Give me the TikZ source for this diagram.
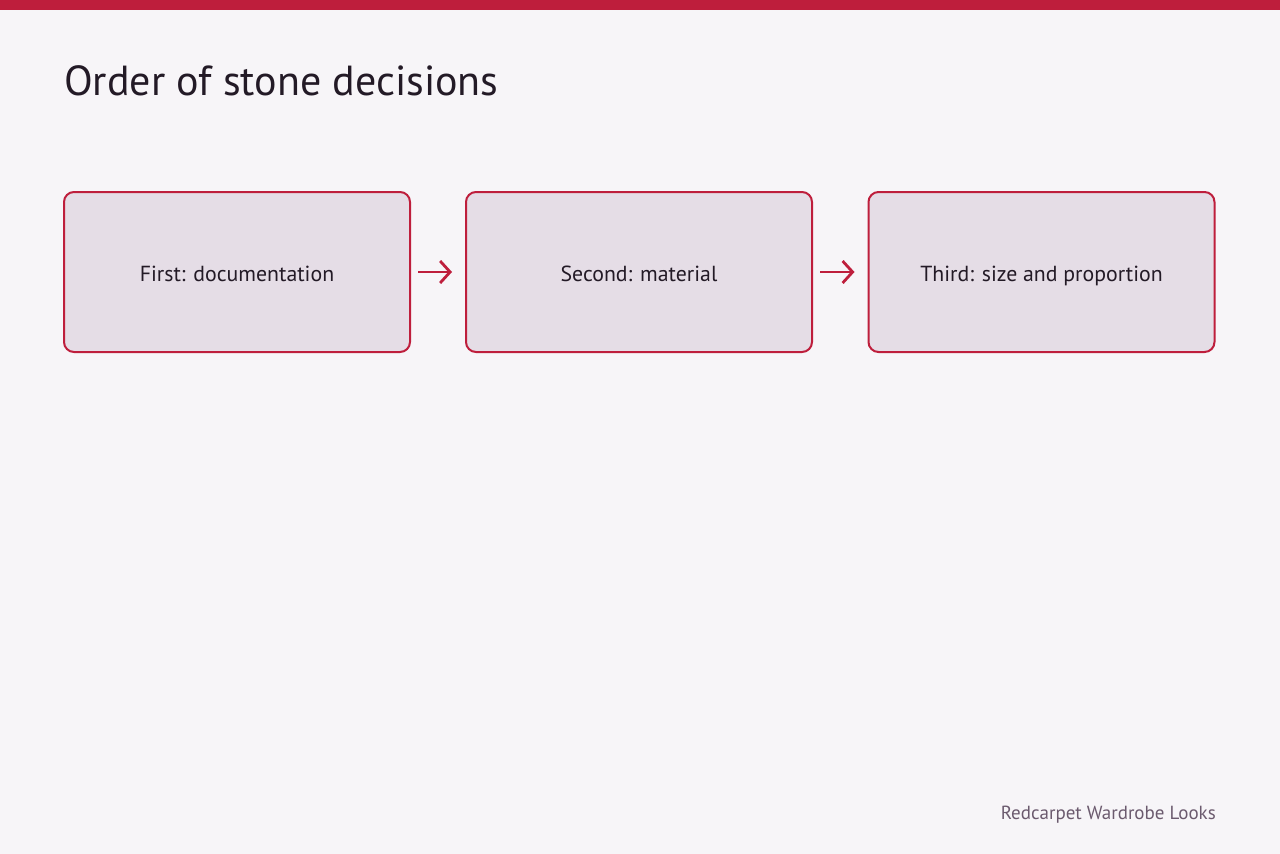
\documentclass[tikz,border=0pt]{standalone}
\usepackage{fontspec}
\setmainfont{PT Sans}
\usetikzlibrary{arrows.meta}
\definecolor{bg}{HTML}{F7F5F8}
\definecolor{accent}{HTML}{BE1E3C}
\definecolor{boxfill}{HTML}{E5DDE6}
\definecolor{ink}{HTML}{231A26}
\definecolor{muted}{HTML}{6B5A6E}
\tikzset{
  stepbox/.style={draw=accent, line width=2pt, fill=boxfill, rounded corners=10pt,
    minimum width=346pt, minimum height=160pt, inner sep=0pt,
    text height=20pt, text depth=2pt,
    text=ink, font=\fontsize{21.8}{26}\selectfont},
  flow/.style={draw=accent, line width=2.8pt, -{Straight Barb[length=10pt,width=22pt,line width=2.8pt]}}
}
\begin{document}
\begin{tikzpicture}[x=1pt,y=-1pt]
\useasboundingbox (0,0) rectangle (1280,854);
\fill[bg] (0,0) rectangle (1280,854);
\fill[accent] (0,0) rectangle (1280,10);
\node[anchor=base west, text=ink, font=\fontsize{42}{50}\selectfont, inner sep=0pt] (title) at (64,95) {Order of stone decisions};
\node[stepbox] (a) at (237,272) {First: documentation};
\node[stepbox] (b) at (639,272) {Second: material};
\node[stepbox] (c) at (1041.5,272) {Third: size and proportion};
\draw[flow] ([xshift=7pt]a.east) -- ([xshift=-13pt]b.west);
\draw[flow] ([xshift=7pt]b.east) -- ([xshift=-13pt]c.west);
\node[anchor=base east, text=muted, font=\fontsize{19}{23}\selectfont, inner sep=0pt] (foot) at (1216,819) {Redcarpet Wardrobe Looks};
\end{tikzpicture}
\end{document}
